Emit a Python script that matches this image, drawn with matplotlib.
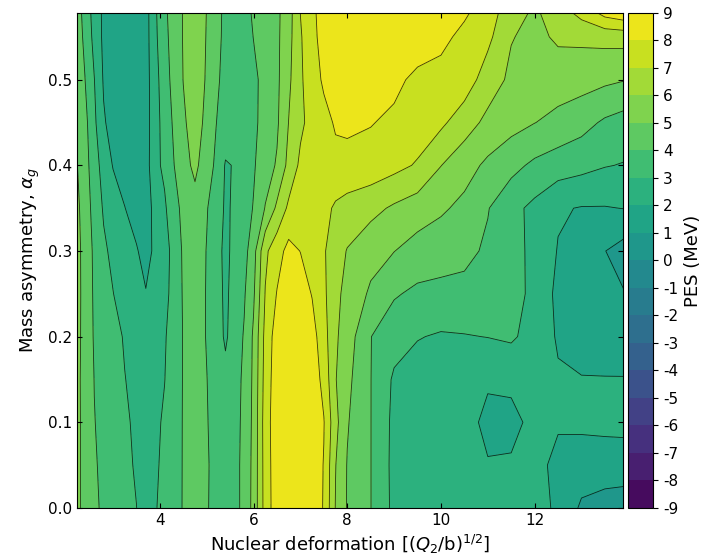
import numpy as np
import matplotlib
matplotlib.use('Agg')
import matplotlib.pyplot as plt

plt.rcParams['axes.unicode_minus'] = False

# Gitter: Deformation (x) und Massenasymmetrie (y)
q2 = [2.2, 2.4, 2.6, 2.8, 3.0, 3.25, 3.5, 3.7, 3.9, 4.1, 4.3, 4.5, 4.75, 5.0, 5.2,
      5.4, 5.6, 5.8, 6.0, 6.25, 6.5, 6.75, 7.0, 7.25, 7.5, 7.75, 8.0, 8.5, 9.0, 9.5,
      10.0, 10.5, 11.0, 11.5, 12.0, 12.5, 13.0, 13.5, 13.9]
alpha_g = [0.0, 0.05, 0.1, 0.15, 0.2, 0.25, 0.3, 0.35, 0.4, 0.45, 0.5, 0.55, 0.58]

# PES-Werte in MeV, eine Zeile je alpha_g
pes = [
    [5.3, 4.72, 4.17, 3.84, 3.6, 3.31, 3.01, 2.6, 2.93, 3.3, 3.68, 4.05, 4.5, 4.07, 3.73, 3.4, 3.74, 4.24, 5.33, 7.42, 8.6, 8.9, 8.93, 8.7, 7.92, 5.95, 4.93, 4.02, 2.75, 2.5, 2.4, 2.35, 2.3, 2.3, 2.4, 1.82, 0.85, 0.6, 0.45],
    [5.3, 4.72, 4.1, 3.79, 3.54, 3.22, 2.9, 2.6, 2.86, 3.21, 3.64, 4.05, 4.5, 4.1, 3.7, 3.4, 3.74, 4.24, 5.3, 7.45, 8.62, 8.92, 8.95, 8.72, 7.95, 6.03, 4.95, 4.02, 2.72, 2.45, 2.35, 2.25, 2.05, 2.08, 2.3, 1.75, 1.5, 1.5, 1.55],
    [5.3, 4.72, 4.03, 3.74, 3.47, 3.14, 2.84, 2.6, 2.82, 3.12, 3.6, 4.05, 4.5, 4.05, 3.7, 3.35, 3.72, 4.2, 5.25, 7.5, 8.65, 8.95, 8.95, 8.75, 8.05, 6.3, 5.08, 4.02, 2.75, 2.45, 2.35, 2.3, 1.8, 1.8, 2.2, 2.1, 2.2, 2.25, 2.25],
    [5.3, 4.7, 3.98, 3.69, 3.38, 3.02, 2.79, 2.6, 2.78, 2.98, 3.51, 4.05, 4.5, 4.02, 3.6, 3.3, 3.7, 4.15, 5.2, 7.4, 8.6, 8.93, 8.93, 8.6, 7.7, 6.05, 5.25, 4.02, 2.85, 2.55, 2.45, 2.3, 2.1, 2.15, 2.2, 2.1, 2.05, 2.05, 2.05],
    [5.35, 4.7, 3.9, 3.6, 3.26, 2.93, 2.75, 2.6, 2.75, 2.92, 3.38, 4.05, 4.45, 3.95, 3.5, 2.85, 3.5, 4.08, 5.15, 7.3, 8.5, 8.9, 8.85, 8.4, 7.4, 6.15, 5.5, 4.02, 3.4, 3.05, 2.9, 2.95, 3.02, 3.15, 2.6, 1.9, 1.55, 1.4, 1.35],
    [5.35, 4.72, 3.85, 3.45, 3.02, 2.6, 2.3, 2.05, 2.4, 2.75, 3.3, 4.1, 4.45, 3.95, 3.45, 2.8, 3.4, 3.9, 4.85, 7.05, 8.05, 8.6, 8.5, 7.95, 7.2, 6.25, 5.7, 4.85, 4.1, 3.8, 3.75, 3.72, 3.5, 3.3, 2.8, 1.75, 1.4, 1.15, 1.05],
    [5.35, 4.7, 3.8, 3.15, 2.8, 2.45, 2.08, 1.65, 2.2, 2.65, 3.3, 4.15, 4.45, 3.97, 3.4, 2.75, 3.3, 3.65, 4.6, 6.8, 7.6, 8.3, 7.98, 7.65, 7.1, 6.45, 5.95, 5.35, 5.02, 4.6, 4.4, 4.25, 3.85, 3.35, 2.75, 1.95, 1.4, 1.02, 0.6],
    [5.3, 4.6, 3.6, 2.9, 2.5, 2.02, 1.6, 1.55, 2.3, 2.85, 3.65, 4.25, 4.6, 4.05, 3.6, 2.85, 3.15, 3.6, 4.05, 5.05, 6.2, 7.2, 7.5, 7.5, 7.3, 6.85, 6.6, 6.3, 5.85, 5.5, 5.15, 4.75, 4.05, 3.3, 2.75, 2.1, 1.95, 1.95, 2.02],
    [5.15, 4.4, 3.45, 2.6, 1.95, 1.6, 1.45, 1.55, 2.75, 3.2, 3.98, 4.6, 5.25, 4.4, 3.85, 2.92, 3.05, 3.6, 3.9, 4.55, 5.1, 6.3, 7.2, 7.55, 7.7, 7.75, 7.75, 7.6, 7.3, 6.9, 6.02, 5.4, 4.8, 4.3, 3.8, 3.5, 3.3, 3.05, 2.95],
    [4.98, 4.3, 3.2, 2.1, 1.65, 1.45, 1.35, 1.6, 2.6, 3.4, 4.15, 4.85, 5.45, 4.75, 4.02, 3.55, 3.05, 3.5, 3.8, 4.35, 4.85, 6.02, 6.8, 7.35, 7.7, 8.1, 8.15, 8.05, 7.8, 7.55, 7.2, 6.45, 5.75, 5.35, 5.02, 4.7, 4.35, 3.85, 3.6],
    [4.8, 4.02, 3.02, 1.9, 1.55, 1.35, 1.3, 1.6, 2.65, 3.55, 4.35, 5.02, 5.55, 4.9, 4.15, 3.75, 3.45, 3.5, 3.8, 4.3, 4.8, 5.8, 6.85, 7.55, 8.15, 8.6, 8.75, 8.7, 8.25, 7.75, 7.6, 7.55, 6.5, 5.8, 5.55, 5.5, 5.4, 5.2, 5.05],
    [4.6, 3.8, 2.7, 1.8, 1.5, 1.3, 1.3, 1.6, 2.8, 3.7, 4.45, 5.05, 5.6, 4.95, 4.25, 3.8, 3.5, 3.6, 4.02, 4.35, 4.8, 5.65, 6.9, 7.7, 8.4, 8.75, 8.9, 8.95, 8.9, 8.6, 8.3, 7.7, 7.25, 6.05, 5.75, 6.15, 6.2, 6.3, 6.35],
    [4.6, 3.65, 2.6, 1.8, 1.5, 1.3, 1.3, 1.6, 2.85, 3.8, 4.47, 5.05, 5.6, 4.98, 4.3, 3.8, 3.5, 3.75, 4.1, 4.45, 4.8, 5.55, 7.02, 7.75, 8.5, 8.8, 8.95, 8.97, 8.97, 8.9, 8.65, 8.2, 7.45, 6.5, 5.85, 6.55, 7.4, 8.5, 8.9],
]

levels = np.arange(-9, 10, 1)

X, Y = np.meshgrid(q2, alpha_g)
Z = np.array(pes)

fig = plt.figure(figsize=(7.06, 5.6), dpi=100)
ax = fig.add_axes([0.109, 0.093, 0.773, 0.884])
cax = fig.add_axes([0.889, 0.093, 0.036, 0.884])

cf = ax.contourf(X, Y, Z, levels=levels, cmap='viridis')
ax.contour(X, Y, Z, levels=levels, colors='k', linewidths=0.6, alpha=0.75)

ax.set_xlim(2.23, 13.88)
ax.set_ylim(0, 0.578)
ax.set_xticks([4, 6, 8, 10, 12])
ax.set_yticks([0.0, 0.1, 0.2, 0.3, 0.4, 0.5])
ax.tick_params(direction='in', top=True, right=True, labelsize=11)
ax.set_xlabel(r'Nuclear deformation [$(Q_2/\mathrm{b})^{1/2}$]', fontsize=13)
ax.set_ylabel(r'Mass asymmetry, $\alpha_g$', fontsize=13)

cb = fig.colorbar(cf, cax=cax, ticks=levels)
cb.ax.tick_params(labelsize=11)
cb.set_label('PES (MeV)', fontsize=13)

fig.savefig('out.png', dpi=100)
